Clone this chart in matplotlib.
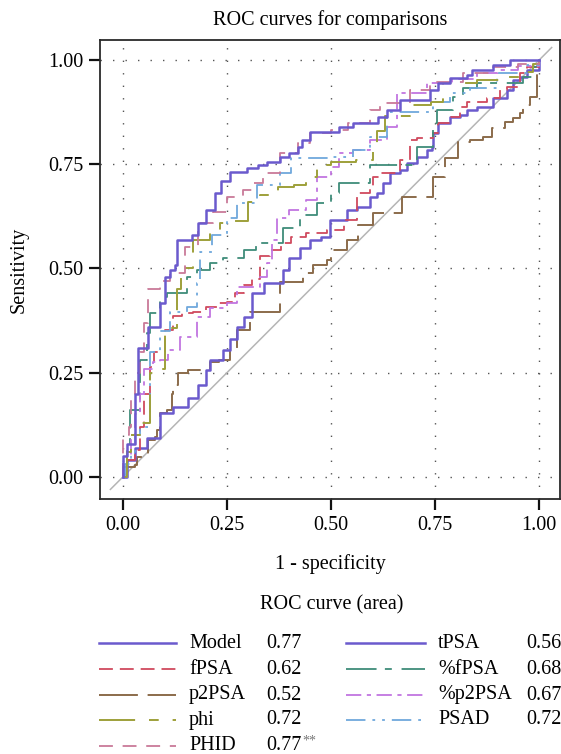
import matplotlib
matplotlib.use("Agg")
import matplotlib.pyplot as plt
from matplotlib.lines import Line2D

plt.rcParams['font.family'] = ['Liberation Serif', 'DejaVu Serif']
plt.rcParams['lines.scale_dashes'] = False

# ---------------- data ----------------
names = ["Model", "fPSA", "p2PSA", "phi", "PHID", "tPSA", "%fPSA", "%p2PSA", "PSAD"]
areas = ["0.77", "0.62", "0.52", "0.72", "0.77", "0.56", "0.68", "0.67", "0.72"]

model_fpr = [0, 0, 0.01, 0.01, 0.03, 0.03, 0.036, 0.036, 0.06, 0.06, 0.089, 0.1, 0.113, 0.125, 0.13,
             0.137, 0.166, 0.18, 0.2, 0.221, 0.235, 0.257, 0.298, 0.325, 0.346, 0.377, 0.4, 0.42,
             0.43, 0.45, 0.5, 0.52, 0.553, 0.613, 0.635, 0.666, 0.733, 0.738, 0.757, 0.786, 0.827,
             0.839, 0.89, 0.93, 1.0]
model_tpr = [0, 0.05, 0.05, 0.08, 0.1, 0.2, 0.2, 0.31, 0.31, 0.36, 0.417, 0.48, 0.496, 0.508, 0.568,
             0.568, 0.58, 0.609, 0.64, 0.68, 0.71, 0.731, 0.741, 0.748, 0.755, 0.768, 0.777, 0.791,
             0.808, 0.827, 0.827, 0.84, 0.849, 0.863, 0.88, 0.904, 0.904, 0.928, 0.945, 0.957, 0.964,
             0.976, 0.988, 1.0, 1.0]

tpsa_fpr = [0, 0.01, 0.029, 0.057, 0.089, 0.12, 0.156, 0.18, 0.2, 0.209, 0.24, 0.257, 0.274, 0.29,
            0.31, 0.34, 0.385, 0.4, 0.425, 0.45, 0.475, 0.498, 0.538, 0.562, 0.594, 0.61, 0.625, 0.642,
            0.666, 0.683, 0.707, 0.731, 0.743, 0.745, 0.757, 0.786, 0.81, 0.827, 0.851, 0.89, 0.923,
            0.938, 0.954, 0.971, 1.0]
tpsa_tpr = [0, 0.04, 0.07, 0.094, 0.153, 0.168, 0.19, 0.22, 0.257, 0.28, 0.305, 0.33, 0.36, 0.384,
            0.44, 0.465, 0.496, 0.525, 0.55, 0.568, 0.576, 0.616, 0.64, 0.648, 0.671, 0.681, 0.705,
            0.729, 0.736, 0.753, 0.768, 0.784, 0.791, 0.825, 0.849, 0.863, 0.868, 0.88, 0.887, 0.909,
            0.928, 0.952, 0.959, 0.976, 1.0]

p2psa_fpr = [0, 0.0, 0.03, 0.033, 0.053, 0.06, 0.077, 0.082, 0.089, 0.105, 0.117, 0.12, 0.132, 0.156,
             0.2, 0.209, 0.23, 0.257, 0.274, 0.305, 0.32, 0.377, 0.433, 0.457, 0.49, 0.5, 0.538, 0.565,
             0.6, 0.67, 0.745, 0.774, 0.805, 0.834, 0.865, 0.887, 0.918, 0.938, 0.954, 0.962, 0.978,
             0.995, 0.995, 1.0]
p2psa_tpr = [0, 0.024, 0.029, 0.048, 0.053, 0.089, 0.096, 0.113, 0.153, 0.16, 0.2, 0.22, 0.25, 0.257,
             0.26, 0.276, 0.28, 0.31, 0.352, 0.396, 0.396, 0.468, 0.489, 0.508, 0.52, 0.544, 0.568,
             0.604, 0.633, 0.671, 0.72, 0.765, 0.803, 0.808, 0.815, 0.837, 0.851, 0.861, 0.873, 0.892,
             0.911, 0.921, 0.983, 1.0]

fpsa_fpr = [0, 0.01, 0.029, 0.04, 0.05, 0.065, 0.075, 0.1, 0.12, 0.142, 0.168, 0.2, 0.226, 0.25, 0.27,
            0.29, 0.31, 0.33, 0.353, 0.38, 0.405, 0.44, 0.49, 0.53, 0.562, 0.594, 0.6, 0.617, 0.666,
            0.69, 0.707, 0.745, 0.757, 0.786, 0.81, 0.827, 0.875, 0.906, 0.923, 0.954, 0.971, 1.0]
fpsa_tpr = [0, 0.04, 0.065, 0.12, 0.2, 0.264, 0.3, 0.352, 0.385, 0.393, 0.395, 0.408, 0.417, 0.42, 0.44,
            0.46, 0.475, 0.53, 0.544, 0.56, 0.576, 0.585, 0.592, 0.616, 0.681, 0.695, 0.72, 0.729, 0.76,
            0.808, 0.813, 0.825, 0.849, 0.863, 0.887, 0.899, 0.909, 0.928, 0.935, 0.969, 0.983, 1.0]

ffpsa_fpr = [0, 0.01, 0.017, 0.04, 0.057, 0.065, 0.089, 0.105, 0.154, 0.178, 0.21, 0.24, 0.29, 0.32,
             0.385, 0.425, 0.466, 0.5, 0.52, 0.594, 0.707, 0.745, 0.755, 0.794, 0.817, 0.851, 0.923,
             0.962, 0.986, 1.0]
ffpsa_tpr = [0, 0.08, 0.16, 0.28, 0.345, 0.393, 0.432, 0.44, 0.48, 0.496, 0.513, 0.525, 0.544, 0.56,
             0.597, 0.628, 0.657, 0.681, 0.705, 0.748, 0.791, 0.849, 0.88, 0.911, 0.933, 0.945, 0.945,
             0.959, 0.983, 1.0]

pp2psa_fpr = [0, 0.01, 0.02, 0.03, 0.04, 0.05, 0.072, 0.089, 0.108, 0.137, 0.178, 0.209, 0.25, 0.274,
              0.33, 0.346, 0.358, 0.37, 0.4, 0.44, 0.466, 0.5, 0.52, 0.553, 0.594, 0.635, 0.658, 0.673,
              0.731, 0.79, 0.851, 0.9, 0.95, 1.0]
pp2psa_tpr = [0, 0.05, 0.1, 0.15, 0.2, 0.26, 0.276, 0.28, 0.305, 0.336, 0.384, 0.405, 0.417, 0.456,
              0.48, 0.513, 0.568, 0.62, 0.64, 0.665, 0.72, 0.743, 0.777, 0.784, 0.808, 0.84, 0.921,
              0.921, 0.945, 0.955, 0.969, 0.975, 0.985, 1.0]

phi_fpr = [0, 0.01, 0.02, 0.04, 0.065, 0.077, 0.1, 0.1, 0.13, 0.14, 0.168, 0.21, 0.233, 0.25, 0.3,
           0.33, 0.372, 0.41, 0.44, 0.466, 0.5, 0.56, 0.6, 0.61, 0.63, 0.69, 0.74, 0.769, 0.851, 0.923,
           0.954, 0.985, 1.0]
phi_tpr = [0, 0.06, 0.1, 0.13, 0.25, 0.26, 0.3, 0.357, 0.45, 0.5, 0.568, 0.592, 0.61, 0.615, 0.66,
           0.676, 0.695, 0.7, 0.72, 0.748, 0.755, 0.76, 0.784, 0.83, 0.865, 0.892, 0.9, 0.945, 0.952,
           0.959, 0.971, 0.99, 1.0]

phid_fpr = [0, 0, 0.015, 0.02, 0.03, 0.04, 0.05, 0.06, 0.09, 0.113, 0.149, 0.18, 0.216, 0.25, 0.289,
            0.313, 0.337, 0.377, 0.42, 0.45, 0.5, 0.54, 0.594, 0.617, 0.69, 0.738, 0.817, 0.89, 0.95,
            1.0]
phid_tpr = [0, 0.1, 0.12, 0.2, 0.25, 0.3, 0.37, 0.45, 0.47, 0.489, 0.552, 0.61, 0.635, 0.671, 0.688,
            0.705, 0.729, 0.777, 0.8, 0.825, 0.832, 0.849, 0.88, 0.897, 0.928, 0.948, 0.969, 0.983,
            0.99, 1.0]

psad_fpr = [0, 0.005, 0.02, 0.03, 0.04, 0.065, 0.089, 0.113, 0.154, 0.178, 0.185, 0.215, 0.25, 0.275,
            0.322, 0.377, 0.405, 0.5, 0.553, 0.594, 0.635, 0.722, 0.745, 0.786, 0.834, 0.899, 0.971,
            1.0]
psad_tpr = [0, 0.03, 0.06, 0.1, 0.12, 0.3, 0.35, 0.396, 0.408, 0.465, 0.54, 0.58, 0.62, 0.657, 0.7,
            0.729, 0.765, 0.768, 0.784, 0.815, 0.875, 0.875, 0.899, 0.921, 0.933, 0.969, 0.988, 1.0]

curves = {
    "Model": (model_fpr, model_tpr),
    "fPSA": (fpsa_fpr, fpsa_tpr),
    "p2PSA": (p2psa_fpr, p2psa_tpr),
    "phi": (phi_fpr, phi_tpr),
    "PHID": (phid_fpr, phid_tpr),
    "tPSA": (tpsa_fpr, tpsa_tpr),
    "%fPSA": (ffpsa_fpr, ffpsa_tpr),
    "%p2PSA": (pp2psa_fpr, pp2psa_tpr),
    "PSAD": (psad_fpr, psad_tpr),
}

# ---------------- styles ----------------
styles = {
    "Model": dict(color="#6B5ACD", lw=1.8, ls="-"),
    "fPSA": dict(color="#D04A5E", lw=1.3, ls=(0, (10, 5))),
    "p2PSA": dict(color="#8B6B4B", lw=1.4, ls=(0, (28, 7))),
    "phi": dict(color="#9EA03A", lw=1.4, ls=(0, (26, 10, 7, 10))),
    "PHID": dict(color="#C97A98", lw=1.3, ls=(0, (10, 7))),
    "tPSA": dict(color="#6B5ACD", lw=1.8, ls="-"),
    "%fPSA": dict(color="#3F8C7A", lw=1.3, ls=(0, (22, 6, 5, 7))),
    "%p2PSA": dict(color="#C175E0", lw=1.3, ls=(0, (11, 4, 3, 4))),
    "PSAD": dict(color="#6FA8DC", lw=1.3, ls=(0, (14, 5, 2, 5, 2, 5))),
}

FS = 14.5
W, H = 561, 754
fig = plt.figure(figsize=(W / 100, H / 100), dpi=100)
ax = fig.add_axes([100 / W, 1 - 499 / H, 460 / W, 459 / H])

ax.set_xlim(-0.055, 1.05)
ax.set_ylim(-0.053, 1.048)
ticks = [0, 0.25, 0.5, 0.75, 1.0]
ax.set_xticks(ticks)
ax.set_yticks(ticks)
ax.set_xticklabels(["0.00", "0.25", "0.50", "0.75", "1.00"])
ax.set_yticklabels(["0.00", "0.25", "0.50", "0.75", "1.00"])
ax.tick_params(direction="out", length=8, width=1.6, labelsize=FS, pad=4, color="#111111")
for s in ax.spines.values():
    s.set_linewidth(1.3)
    s.set_color("#2a2a2a")
ax.grid(True, linestyle=(0, (1, 8)), color="#555555", linewidth=1.0)
ax.set_axisbelow(True)

# diagonal reference
ax.plot([-0.03, 1.03], [-0.03, 1.03], color="#B5B5B5", lw=1.1, zorder=1)

draw_order = ["p2PSA", "tPSA", "fPSA", "%fPSA", "%p2PSA", "PSAD", "phi", "PHID", "Model"]
for nm in draw_order:
    x, y = curves[nm]
    st = styles[nm]
    ax.plot(x, y, drawstyle="steps-post", color=st["color"], lw=st["lw"], linestyle=st["ls"],
            zorder=3)

ax.set_title("ROC curves for comparisons", fontsize=FS, pad=11)
ax.set_xlabel("1 - specificity", fontsize=FS, labelpad=14)
ax.set_ylabel("Sensitivity", fontsize=FS, labelpad=14)

# ---------------- legend (manual, pixel layout) ----------------
lax = fig.add_axes([0, 0, 1, 1], zorder=-1)
lax.set_xlim(0, W)
lax.set_ylim(H, 0)
lax.axis("off")
lax.text(332, 605, "ROC curve (area)", fontsize=FS, ha="center", va="center")

rows_y = [643, 669, 695, 720, 746]
cols = [dict(x0=99, x1=176, xn=189, xv=266), dict(x0=346, x1=425, xn=438, xv=526)]
for i, nm in enumerate(names):
    c = cols[0] if i < 5 else cols[1]
    yy = rows_y[i if i < 5 else i - 5]
    st = styles[nm]
    lax.add_line(Line2D([c["x0"], c["x1"]], [yy, yy], color=st["color"], lw=st["lw"],
                        linestyle=st["ls"]))
    lax.text(c["xn"], yy, nm, fontsize=FS, ha="left", va="center")
    t = lax.text(c["xv"], yy, areas[i], fontsize=FS, ha="left", va="center")
    if nm == "PHID":
        lax.annotate("**", xy=(1, 0.75), xycoords=t, xytext=(1, 0), textcoords="offset points",
                     fontsize=10, color="#777777", ha="left", va="center")

fig.savefig("out.png", dpi=100)
